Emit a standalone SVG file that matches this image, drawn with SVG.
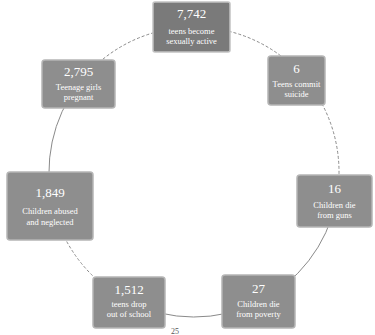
<svg xmlns="http://www.w3.org/2000/svg" width="375" height="335" viewBox="0 0 375 335">
<style>
.bg{fill:#ffffff}
.box{fill:#8e8e8e;stroke:#b5b5b5;stroke-width:1.5}
.dark{fill:#7a7a7a;stroke:#c2c2c2;stroke-width:1.5}
.num{font-family:"Liberation Serif",serif;font-size:13px;fill:#ffffff;text-anchor:middle}
.lbl{font-family:"Liberation Serif",serif;font-size:8.5px;fill:#ffffff;text-anchor:middle}
.arc{fill:none;stroke:#8a8a8a;stroke-width:1}
.dash{stroke-dasharray:3 2}
.foot{font-family:"Liberation Serif",serif;font-size:8px;fill:#555555;text-anchor:middle}
</style>
<rect class="bg" x="0" y="0" width="375" height="335"/>
<g id="connectors">
<path class="arc dash" d="M78.5,84.3 A145,145 0 0 1 194,27"/>
<path class="arc dash" d="M194,27 A145,145 0 0 1 301.8,75"/>
<path class="arc dash" d="M301.8,75 A145,145 0 0 1 336,201.4"/>
<path class="arc" d="M336,201.4 A145,145 0 0 1 258,302.1"/>
<path class="arc" d="M258,302.1 A145,145 0 0 1 129.1,301.7"/>
<path class="arc dash" d="M129.1,301.7 A145,145 0 0 1 52.9,205.4"/>
<path class="arc" d="M52.9,205.4 A145,145 0 0 1 78.5,84.3"/>
</g>
<g id="n1">
<rect class="dark" x="153" y="2" width="77" height="50" rx="2"/>
<text class="num" x="191.5" y="18">7,742</text>
<text class="lbl" x="191.5" y="34">teens become</text>
<text class="lbl" x="191.5" y="44">sexually active</text>
</g>
<g id="n2">
<rect class="box" x="268" y="56" width="57" height="49" rx="3"/>
<text class="num" x="296.5" y="73">6</text>
<text class="lbl" x="296.5" y="87">Teens commit</text>
<text class="lbl" x="296.5" y="97">suicide</text>
</g>
<g id="n3">
<rect class="box" x="297" y="175" width="75" height="52" rx="3"/>
<text class="num" x="334.5" y="193">16</text>
<text class="lbl" x="334.5" y="208">Children die</text>
<text class="lbl" x="334.5" y="218">from guns</text>
</g>
<g id="n4">
<rect class="box" x="222" y="275" width="73" height="53" rx="3"/>
<text class="num" x="258.5" y="293">27</text>
<text class="lbl" x="258.5" y="307">Children die</text>
<text class="lbl" x="258.5" y="317">from poverty</text>
</g>
<g id="n5">
<rect class="box" x="93" y="277" width="72" height="51" rx="3"/>
<text class="num" x="129" y="294">1,512</text>
<text class="lbl" x="129" y="307">teens drop</text>
<text class="lbl" x="129" y="317">out of school</text>
</g>
<g id="n6">
<rect class="box" x="7" y="172" width="86" height="68" rx="3"/>
<text class="num" x="50" y="197">1,849</text>
<text class="lbl" x="50" y="214">Children abused</text>
<text class="lbl" x="50" y="225">and neglected</text>
</g>
<g id="n7">
<rect class="box" x="42" y="60" width="73" height="48" rx="3"/>
<text class="num" x="78.5" y="76">2,795</text>
<text class="lbl" x="78.5" y="90">Teenage girls</text>
<text class="lbl" x="78.5" y="100">pregnant</text>
</g>
<text class="foot" x="175" y="334">25</text>
</svg>
